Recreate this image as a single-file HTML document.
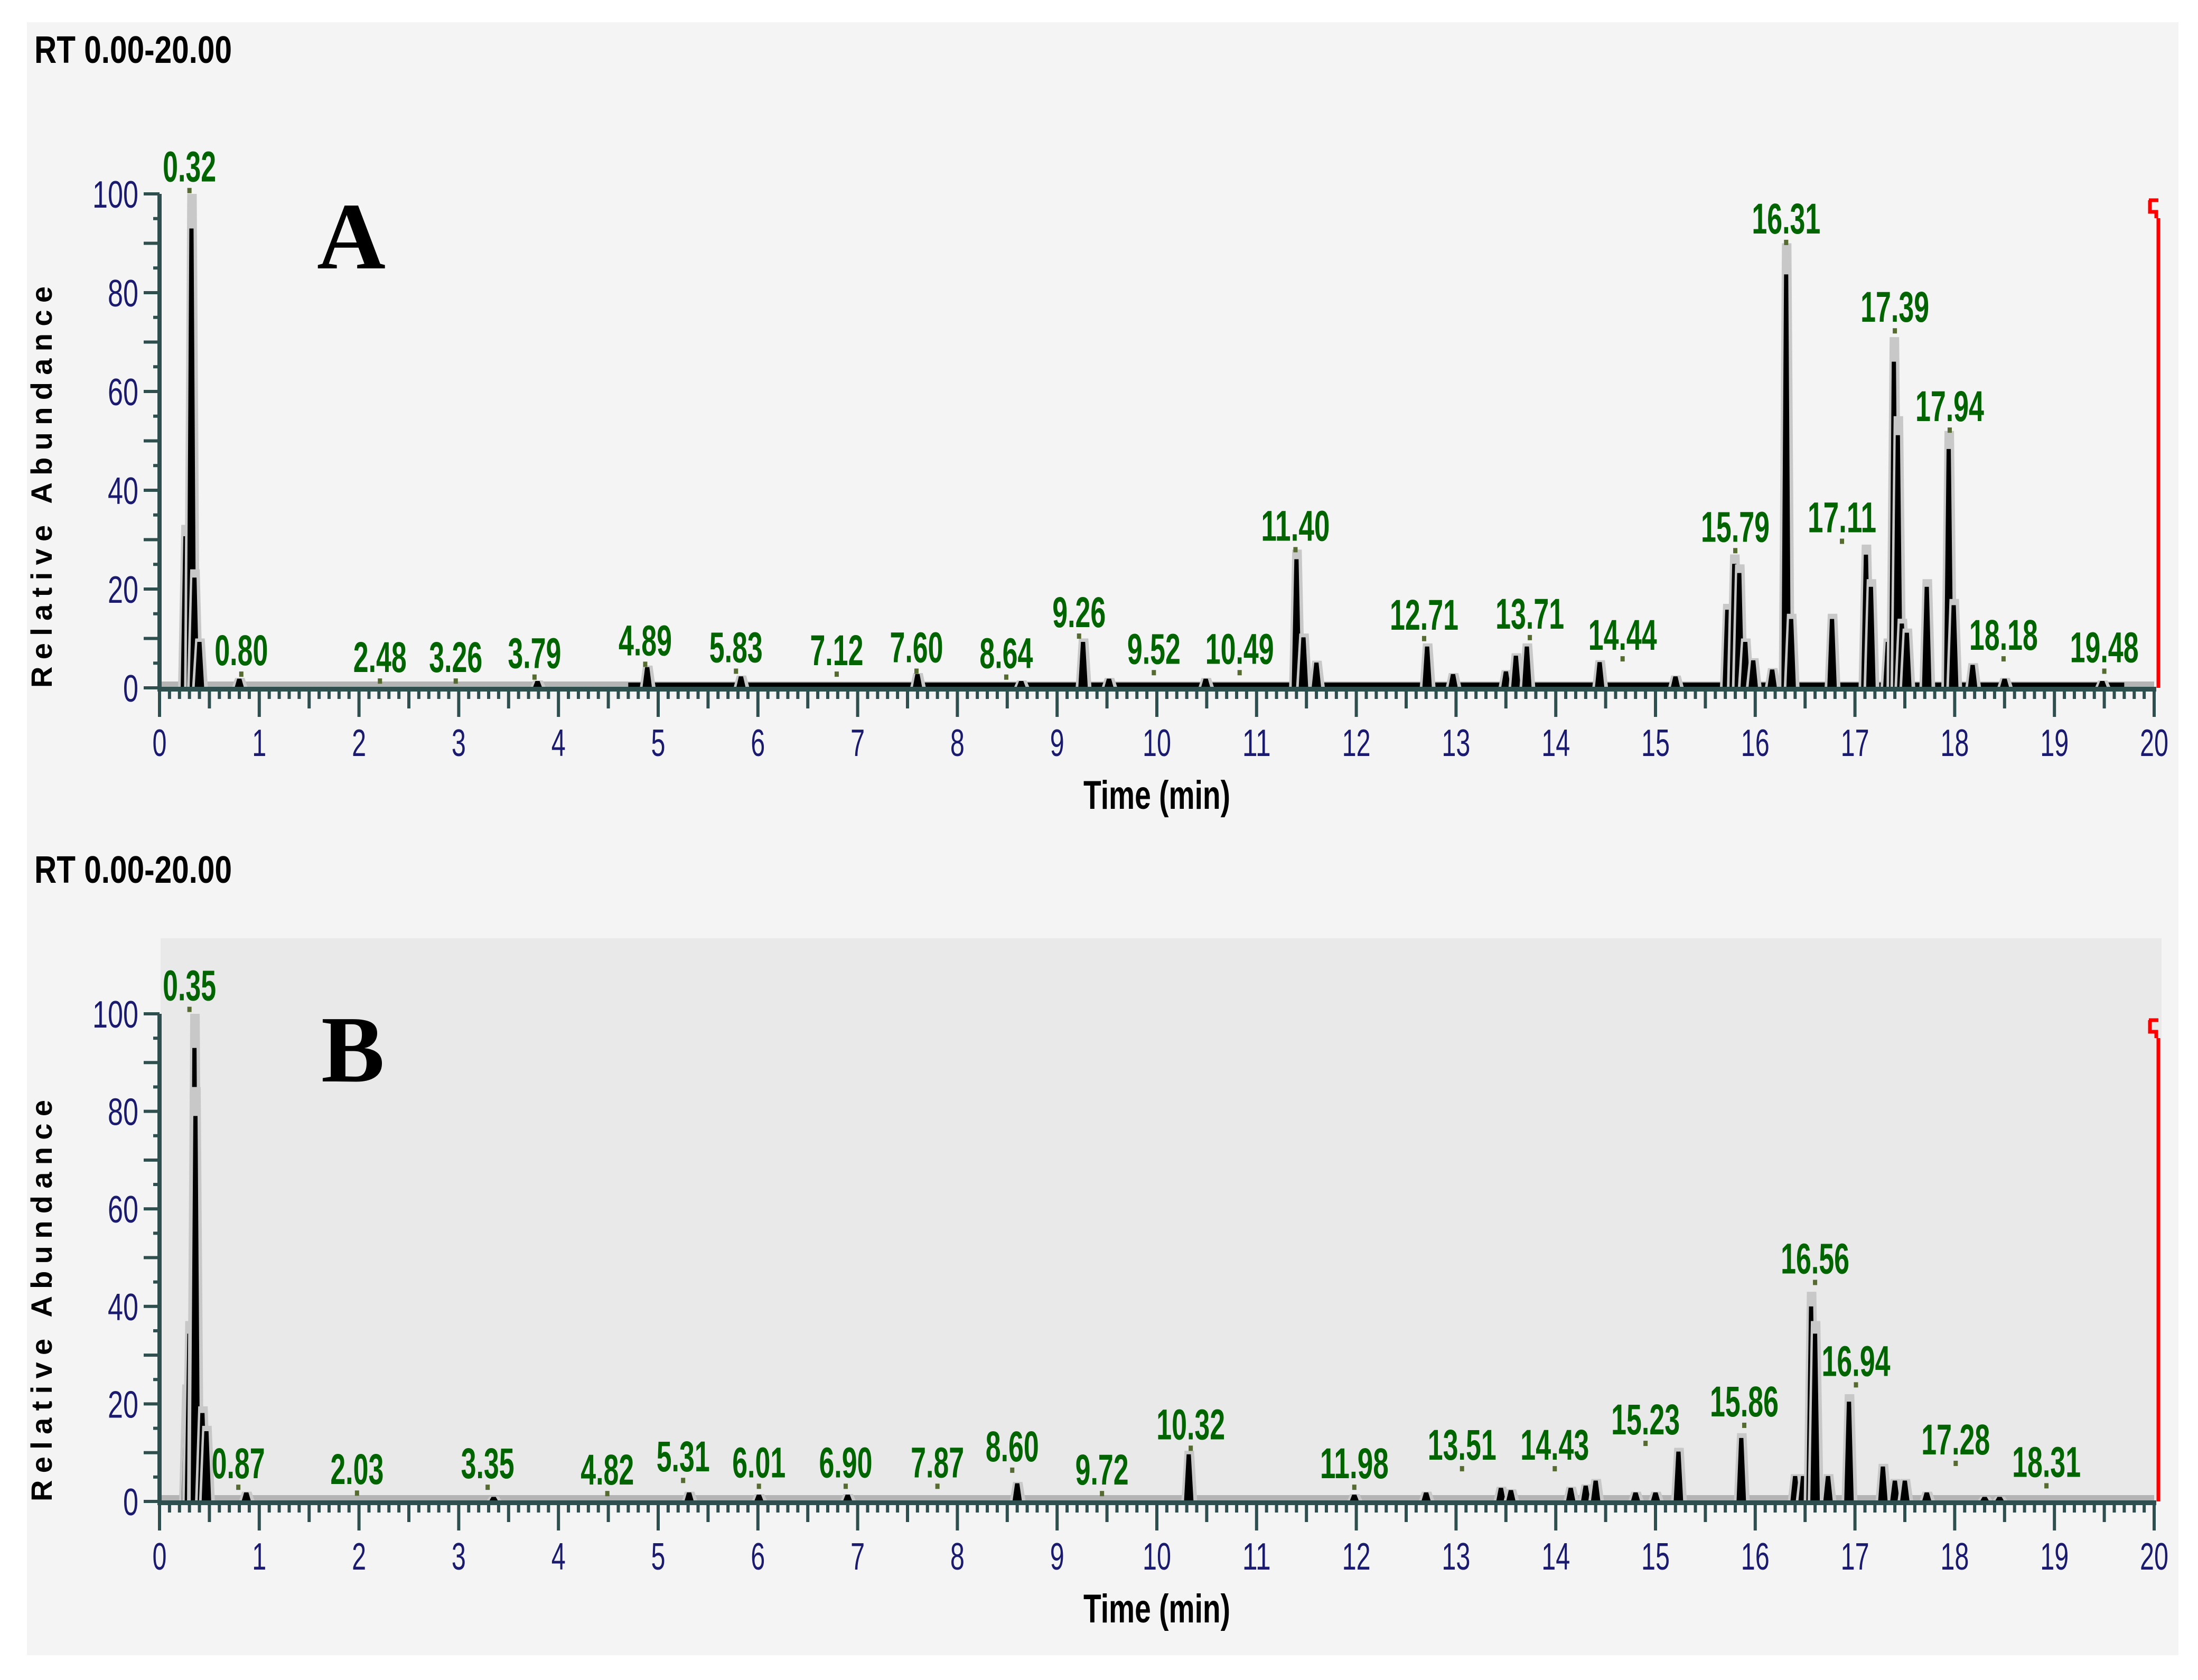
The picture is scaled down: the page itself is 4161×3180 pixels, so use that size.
<!DOCTYPE html>
<html><head><meta charset="utf-8"><style>
html,body{margin:0;padding:0;background:#fff;}
svg{display:block;}
text{font-family:"Liberation Sans",sans-serif;}
</style></head><body>
<svg id="c" xmlns="http://www.w3.org/2000/svg" width="4161" height="3180" viewBox="0 0 4161 3180">
<rect x="0" y="0" width="4161" height="3180" fill="#ffffff"/>
<rect x="51" y="42" width="4073" height="3091" fill="#f4f4f4"/>
<rect x="304" y="1776" width="3788" height="1066" fill="#e9e9e9"/>
</svg>
<script>
const xTicks = [0,1,2,3,4,5,6,7,8,9,10,11,12,13,14,15,16,17,18,19,20];
const yTicks = [0,20,40,60,80,100];
const aTimes = [0.26,0.32,0.35,0.40,0.80,3.79,4.89,5.83,7.60,8.64,9.26,9.52,10.49,11.40,11.47,11.60,12.71,12.97,13.50,13.60,13.71,14.44,15.20,15.72,15.79,15.84,15.90,15.98,16.17,16.31,16.36,16.77,17.11,17.16,17.33,17.39,17.43,17.47,17.52,17.72,17.94,17.99,18.18,18.50,19.48];
const aHeights = [33,100,24,10,2,1.5,4.5,2.5,3,1.5,10,2,2,28,11,5.5,9,3,3.6,7,9,5.6,2.5,17,27,25,10,6,4,90,15,15,29,22,10,71,55,14,12,22,52,18,5,2,1.5];
const aLabelText = ["0.32","0.80","2.48","3.26","3.79","4.89","5.83","7.12","7.60","8.64","9.26","9.52","10.49","11.40","12.71","13.71","14.44","15.79","16.31","17.11","17.39","17.94","18.18","19.48"];
const aLabelX = [0.30,0.82,2.21,2.97,3.76,4.87,5.78,6.79,7.59,8.49,9.22,9.97,10.83,11.39,12.68,13.74,14.67,15.80,16.31,16.87,17.40,17.95,18.49,19.50];
const aLabelLevel = [105.7,7.8,6.4,6.4,7.2,9.8,8.4,7.8,8.4,7.2,15.5,8.1,8.1,33,15,15.2,10.9,32.8,95.2,34.7,77.3,57.2,10.9,8.4];
const bTimes = [0.27,0.30,0.35,0.36,0.43,0.47,0.87,3.35,5.31,6.01,6.90,8.60,10.32,11.98,12.70,13.45,13.55,14.15,14.30,14.40,14.80,15.00,15.23,15.86,16.40,16.48,16.56,16.60,16.73,16.94,17.28,17.40,17.50,17.72,18.30,18.45];
const bHeights = [24,37,100,85,19.5,15.5,2,1,2,1.5,1.5,4,10.4,1.5,2,3,2.5,3,3.5,4.6,2,2,11,14,5.6,5.6,43,37,5.6,22,7.7,4.6,4.6,2,1,1];
const bLabelText = ["0.35","0.87","2.03","3.35","4.82","5.31","6.01","6.90","7.87","8.60","9.72","10.32","11.98","13.51","14.43","15.23","15.86","16.56","16.94","17.28","18.31"];
const bLabelX = [0.30,0.79,1.98,3.29,4.49,5.25,6.01,6.88,7.80,8.55,9.45,10.34,11.98,13.06,13.99,14.90,15.89,16.60,17.01,18.01,18.92];
const bLabelLevel = [106,8,6.8,8,6.7,9.4,8.2,8.2,8.2,11.5,6.7,16,8,11.8,11.8,17,20.7,50,29,12.9,8.3];

const svg = document.getElementById('c');
const NS = 'http://www.w3.org/2000/svg';
function mk(tag, attrs, parent){
  const e = document.createElementNS(NS, tag);
  for (const k in attrs) e.setAttribute(k, attrs[k]);
  (parent||svg).appendChild(e);
  return e;
}
const X0 = 302, PXMIN = 188.8;
function xs(t){ return X0 + t*PXMIN; }

function panel(name, base, top100, times, heights, lText, lX, lLvl, letter, letterX, letterY, baseNoiseStart){
  const ppp = (base - top100)/100;
  function ys(v){ return base - v*ppp; }
  const g = mk('g', {});
  
  
  const rt = mk('text', {x:65, y:top100-248, 'font-size':72, fill:'#000', 'font-weight':'bold', textLength:374, lengthAdjust:'spacingAndGlyphs'}, g);
  rt.textContent = 'RT 0.00-20.00';
  
  
  const yt = mk('text', {x:0, y:0, 'font-size':56, 'font-weight':'bold', fill:'#000', 'text-anchor':'middle', textLength:760, lengthAdjust:'spacing', transform:'translate(98,'+(base-380)+') rotate(-90)'}, g);
  yt.textContent = 'Relative Abundance';
  
  
  const band = mk('rect', {x:xs(0), y:base-12, width:xs(20)-xs(0), height:12, fill:'#b4b4b4'}, g);
  
  
  const noise = mk('rect', {x:xs(baseNoiseStart), y:base-10, width:xs(19.7)-xs(baseNoiseStart), height:10, fill:'#000'}, g);
  
  
  for (let i=0;i<times.length;i++){
    const t = times[i], h = heights[i];
    const xc = xs(t), yt2 = ys(h);
    const halo = mk('polygon', {points:(xc-14)+','+base+' '+(xc-8)+','+(yt2)+' '+(xc+10)+','+(yt2)+' '+(xc+16)+','+base, fill:'#c8c8c8'}, g);
    
    
    const pk = mk('polygon', {points:(xc-9)+','+base+' '+(xc-4)+','+(ys(h*0.93))+' '+(xc+4)+','+(ys(h*0.93))+' '+(xc+9)+','+base, fill:'#000'}, g);
    
    
  }
  for (let i=0;i<lText.length;i++){
    const xc = xs(lX[i]), yc = ys(lLvl[i]);
    const s = lText[i];
    const w = (s.length-1)*29 + 14;
    const tx = mk('text', {x:xc, y:yc+30, 'font-size':82, 'font-weight':'bold', fill:'#006400', 'text-anchor':'middle', textLength:w, lengthAdjust:'spacingAndGlyphs'}, g);
    tx.textContent = s;
    
    
    const d = mk('rect', {x:xc-4, y:yc+42, width:8, height:10, fill:'#556b2f'}, g);
    
    
  }
  const ax = mk('rect', {x:X0-4, y:top100, width:8, height:base-top100+4, fill:'#2f4f4f'}, g);
  
  
  const bx = mk('rect', {x:X0-4, y:base-2, width:xs(20)-X0+8, height:9, fill:'#2f4f4f'}, g);
  
  
  for (let v=0; v<=100; v+=5){
    const len = (v%10===0) ? 30 : 12;
    const tk = mk('rect', {x:X0-len, y:ys(v)-3, width:len, height:6, fill:'#2f4f4f'}, g);
    
    
  }
  yTicks.forEach(v=>{
    const lb = mk('text', {x:X0-40, y:ys(v)+26, 'font-size':72, fill:'#1a1a6e', 'text-anchor':'end', textLength:String(v).length*29, lengthAdjust:'spacingAndGlyphs'}, g);
    lb.textContent = String(v);
    
    
  });
  for (let k=0;k<=200;k++){
    const len = (k%10===0) ? 50 : (k%5===0 ? 34 : 16);
    const tk = mk('rect', {x:xs(k/10)-3, y:base+5, width:6, height:len, fill:'#2f4f4f'}, g);
    
    
  }
  xTicks.forEach(v=>{
    const lb = mk('text', {x:xs(v), y:base+129, 'font-size':72, fill:'#1a1a6e', 'text-anchor':'middle', textLength:String(v).length*27, lengthAdjust:'spacingAndGlyphs'}, g);
    lb.textContent = String(v);
    
    
  });
  const xt = mk('text', {x:xs(10), y:base+229, 'font-size':76, 'font-weight':'bold', fill:'#000', 'text-anchor':'middle', textLength:278, lengthAdjust:'spacingAndGlyphs'}, g);
  xt.textContent = 'Time (min)';
  
  
  const lt = mk('text', {x:letterX, y:letterY, 'font-size':180, 'font-weight':'bold', fill:'#000', style:'font-family:"Liberation Serif",serif', 'text-anchor':'middle'}, g);
  lt.textContent = letter;
  
  
  const rx = xs(20)+8;
  const rt2 = mk('path', {d:'M'+(rx-18)+' '+(top100+12)+' L'+rx+' '+(top100+12)+' M'+(rx-16)+' '+(top100+12)+' L'+(rx-16)+' '+(top100+34)+' L'+(rx-4)+' '+(top100+34)+' L'+(rx-4)+' '+(top100+46)+' M'+rx+' '+(top100+46)+' L'+rx+' '+base, stroke:'#ff0000', 'stroke-width':7, fill:'none'}, g);
  
  
}
panel('panel-a', 1302, 367, aTimes, aHeights, aLabelText, aLabelX, aLabelLevel, 'A', 665, 508, 4.7);
panel('panel-b', 2842, 1919, bTimes, bHeights, bLabelText, bLabelX, bLabelLevel, 'B', 668, 2047, 19.7);
</script>
</body></html>
